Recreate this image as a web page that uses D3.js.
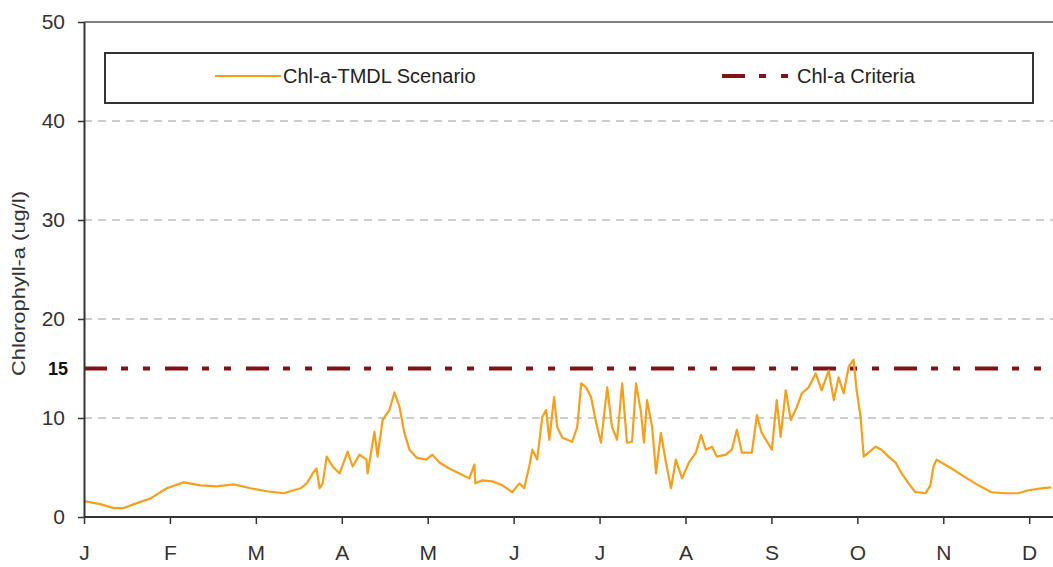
<!DOCTYPE html>
<html>
<head>
<meta charset="utf-8">
<script src="https://cdn.jsdelivr.net/npm/d3@7"></script>
<style>
  html, body { margin: 0; padding: 0; background: #fff; }
  svg { display: block; font-family: Arial, "Liberation Sans", sans-serif; }
</style>
</head>
<body>
<svg id="chart" width="1053" height="567"></svg>
<script>
// ---- data ----
const monthLabels = ["J","F","M","A","M","J","J","A","S","O","N","D"];
const yTicks = [0, 10, 20, 30, 40, 50];
const gridValues = [10, 20, 30, 40];
const criteriaValue = 15;
const seriesNames = ["Chl-a-TMDL Scenario", "Chl-a Criteria"];
const yTitle = "Chlorophyll-a (ug/l)";

// day of year
const days = [
  0.0, 5.7, 10.6, 14.1, 17.7, 23.7, 29.3, 35.3, 41.3, 47.0, 53.0, 59.0, 64.7, 70.7, 76.7, 78.8,
  80.2, 80.9, 82.3, 83.4, 84.5, 85.9, 88.0, 90.5, 93.3, 95.1, 97.5, 100.0, 100.4, 102.8, 103.9,
  105.7, 108.1, 109.9, 111.7, 113.4, 115.2, 117.7, 121.2, 123.3, 125.8, 129.3, 132.9, 136.4,
  138.2, 138.5, 141.0, 144.5, 148.1, 151.6, 154.1, 155.8, 157.6, 158.7, 160.4, 162.2, 163.6,
  164.7, 166.4, 167.5, 169.3, 172.8, 174.6, 176.0, 177.7, 179.5, 181.3, 183.0, 185.2, 186.9,
  188.7, 190.5, 192.2, 194.0, 195.4, 197.2, 198.2, 199.3, 201.1, 202.5, 204.2, 206.0, 207.8,
  209.5, 211.7, 214.1, 216.6, 218.4, 220.1, 222.3, 224.0, 227.2, 229.3, 231.1, 232.9, 234.3,
  236.4, 238.2, 239.9, 243.5, 245.2, 246.6, 248.4, 250.2, 252.3, 254.1, 256.5, 259.0, 261.1,
  263.6, 265.4, 267.1, 268.9, 270.7, 272.4, 273.5, 274.9, 276.0, 277.7, 280.2, 282.3, 284.8,
  287.3, 289.4, 291.9, 294.3, 295.4, 297.9, 299.6, 300.7, 301.8, 303.5, 307.1, 312.0, 316.6,
  321.2, 326.1, 330.7, 334.3, 338.9, 342.4
];
// Chl-a TMDL scenario (ug/l)
const chla = [
  1.6, 1.3, 0.9, 0.9, 1.3, 1.9, 2.9, 3.5, 3.2, 3.1, 3.3, 2.9, 2.6, 2.4, 2.9, 3.4,
  4.0, 4.4, 4.9, 2.9, 3.4, 6.1, 5.1, 4.4, 6.6, 5.1, 6.3, 5.8, 4.4, 8.6, 6.1,
  9.8, 10.8, 12.6, 11.1, 8.5, 6.8, 6.0, 5.8, 6.3, 5.5, 4.9, 4.4, 3.9,
  5.3, 3.4, 3.7, 3.6, 3.2, 2.5, 3.4, 2.9, 5.1, 6.8, 5.8, 10.1, 10.8,
  7.8, 12.1, 9.1, 8.0, 7.6, 9.1, 13.5, 13.1, 12.1, 9.5, 7.5, 13.1, 9.1,
  7.8, 13.5, 7.5, 7.6, 13.5, 10.5, 7.5, 11.8, 9.1, 4.4, 8.5, 5.5, 2.9,
  5.8, 3.9, 5.5, 6.5, 8.3, 6.8, 7.1, 6.1, 6.3, 6.8, 8.8, 6.5, 6.5,
  6.5, 10.3, 8.5, 6.8, 11.8, 8.1, 12.8, 9.8, 11.1, 12.5, 13.1, 14.5, 12.8,
  14.8, 11.8, 14.1, 12.5, 15.2, 15.9, 12.8, 10.1, 6.1, 6.5, 7.1, 6.8, 6.1,
  5.5, 4.4, 3.4, 2.5, 2.5, 2.4, 3.2, 5.1, 5.8, 5.5, 4.9, 4.0, 3.2,
  2.5, 2.4, 2.4, 2.7, 2.9, 3.0
];

// ---- layout ----
const W = 1053, H = 567;
const plot = { left: 84, top: 22, bottom: 517 };
const pxPerDay = 2.825;

const svg = d3.select("#chart");

const x = d3.scaleLinear().domain([0, 365]).range([plot.left, plot.left + 365 * pxPerDay]);
const y = d3.scaleLinear().domain([0, 50]).range([plot.bottom, plot.top]);

// gridlines
svg.append("g").selectAll("line").data(gridValues).join("line")
  .attr("x1", plot.left).attr("x2", W)
  .attr("y1", d => y(d)).attr("y2", d => y(d))
  .attr("stroke", "#bdbdbd").attr("stroke-width", 1.4)
  .attr("stroke-dasharray", "8,6");

// top border
svg.append("line")
  .attr("x1", plot.left).attr("x2", W)
  .attr("y1", y(50)).attr("y2", y(50))
  .attr("stroke", "#555").attr("stroke-width", 1.5);

// criteria line
const criteriaColor = "#7e1416";
const criteriaDash = "23,14,7,15,7,15";
svg.append("line")
  .attr("x1", plot.left).attr("x2", W)
  .attr("y1", y(criteriaValue)).attr("y2", y(criteriaValue))
  .attr("stroke", criteriaColor).attr("stroke-width", 4)
  .attr("stroke-dasharray", criteriaDash);

// series line
const seriesColor = "#f5a01c";
const pts = days.map((d, i) => [d, chla[i]]);
svg.append("path")
  .datum(pts)
  .attr("fill", "none")
  .attr("stroke", seriesColor)
  .attr("stroke-width", 2.2)
  .attr("stroke-linejoin", "round")
  .attr("d", d3.line().x(d => x(d[0])).y(d => y(d[1])));

// y axis
const yAxis = svg.append("g")
  .attr("transform", `translate(${plot.left},0)`)
  .call(d3.axisLeft(y).tickValues(yTicks).tickSize(6).tickPadding(13).tickSizeOuter(0));
yAxis.select(".domain").attr("stroke", "#333").attr("stroke-width", 2);
yAxis.selectAll(".tick line").attr("stroke", "#333").attr("stroke-width", 1.5);
yAxis.selectAll(".tick text").attr("font-size", 21).attr("fill", "#333")
  .attr("font-family", "Arial, 'Liberation Sans', sans-serif");

// x axis
const monthPos = monthLabels.map((m, i) => i * 365 / 12);
const xAxis = svg.append("g")
  .attr("transform", `translate(0,${plot.bottom})`)
  .call(d3.axisBottom(x).tickValues(monthPos).tickFormat((d, i) => monthLabels[i])
    .tickSize(7).tickPadding(21).tickSizeOuter(0));
xAxis.select(".domain").attr("stroke", "#333").attr("stroke-width", 2)
  .attr("d", `M${plot.left},0H${W}`);
xAxis.selectAll(".tick line").attr("stroke", "#333").attr("stroke-width", 1.5);
xAxis.selectAll(".tick text").attr("font-size", 21).attr("fill", "#333")
  .attr("font-family", "Arial, 'Liberation Sans', sans-serif");

// bold "15" annotation
svg.append("text")
  .attr("x", 68).attr("y", y(criteriaValue))
  .attr("dy", "0.35em")
  .attr("text-anchor", "end")
  .attr("font-size", 18).attr("font-weight", "bold").attr("fill", "#111")
  .text(String(criteriaValue));

// y axis title
svg.append("text")
  .attr("transform", `translate(25,${(plot.top + plot.bottom) / 2 + 14}) rotate(-90)`)
  .attr("text-anchor", "middle")
  .attr("font-size", 18).attr("fill", "#333")
  .attr("textLength", 185).attr("lengthAdjust", "spacingAndGlyphs")
  .text(yTitle);

// legend
const lg = svg.append("g");
lg.append("rect")
  .attr("x", 105).attr("y", 53).attr("width", 928).attr("height", 50)
  .attr("fill", "#fff").attr("stroke", "#333").attr("stroke-width", 2);
lg.append("line")
  .attr("x1", 215).attr("x2", 281).attr("y1", 76).attr("y2", 76)
  .attr("stroke", seriesColor).attr("stroke-width", 1.8);
lg.append("text")
  .attr("x", 283).attr("y", 83)
  .attr("font-size", 20).attr("fill", "#222")
  .text(seriesNames[0]);
lg.append("line")
  .attr("x1", 722).attr("x2", 795).attr("y1", 76).attr("y2", 76)
  .attr("stroke", criteriaColor).attr("stroke-width", 4)
  .attr("stroke-dasharray", criteriaDash);
lg.append("text")
  .attr("x", 797).attr("y", 83)
  .attr("font-size", 20).attr("fill", "#222")
  .text(seriesNames[1]);
</script>
</body>
</html>
